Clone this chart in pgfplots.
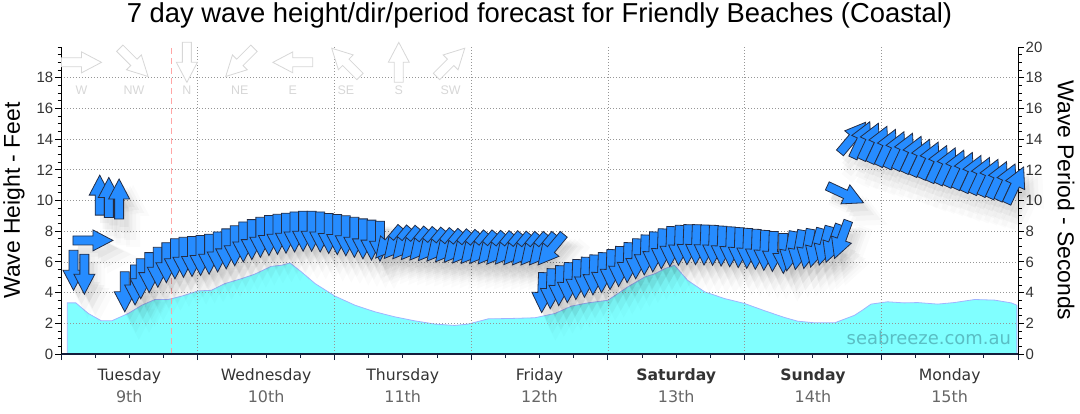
\documentclass[border=0pt]{standalone}
\usepackage{pgfplots}
\usepackage{pgfplotstable}
\pgfplotsset{compat=1.18}
\usepackage{fontspec}
\setmainfont{Liberation Sans}
\newfontfamily\verd{DejaVu Sans}
\definecolor{arrowblue}{RGB}{38,140,255}
\definecolor{arrowedge}{RGB}{35,45,70}
\definecolor{areacyan}{RGB}{128,255,255}
\definecolor{arealine}{RGB}{160,180,255}
\definecolor{gridgray}{RGB}{150,150,150}
\definecolor{navy}{RGB}{20,30,60}
\definecolor{wm}{RGB}{90,190,196}
\definecolor{leggray}{RGB}{215,215,215}
\definecolor{daycol}{RGB}{51,51,51}
\definecolor{datecol}{RGB}{102,102,102}
\protected\def\dt#1{{\verd\fontsize{16}{22}\selectfont\color{datecol}#1}}
\protected\def\keyfont{\fontsize{12.5}{12.5}\selectfont}

\pgfdeclareplotmark{warrow}{%
  \pgfpathmoveto{\pgfpoint{-20bp}{4.5bp}}%
  \pgfpathlineto{\pgfpoint{0bp}{4.5bp}}%
  \pgfpathlineto{\pgfpoint{0bp}{10.5bp}}%
  \pgfpathlineto{\pgfpoint{20bp}{0bp}}%
  \pgfpathlineto{\pgfpoint{0bp}{-10.5bp}}%
  \pgfpathlineto{\pgfpoint{0bp}{-4.5bp}}%
  \pgfpathlineto{\pgfpoint{-20bp}{-4.5bp}}%
  \pgfpathclose
  \pgfusepathqfillstroke
}
\pgfdeclareplotmark{wshadow}{%
  \pgfpathmoveto{\pgfpoint{-20bp}{4.5bp}}%
  \pgfpathlineto{\pgfpoint{0bp}{4.5bp}}%
  \pgfpathlineto{\pgfpoint{0bp}{10.5bp}}%
  \pgfpathlineto{\pgfpoint{20bp}{0bp}}%
  \pgfpathlineto{\pgfpoint{0bp}{-10.5bp}}%
  \pgfpathlineto{\pgfpoint{0bp}{-4.5bp}}%
  \pgfpathlineto{\pgfpoint{-20bp}{-4.5bp}}%
  \pgfpathclose
  \pgfusepathqfill
}

% wave height (feet) against hours from start
\pgfplotstableread{
h ft
1.1 3.33
2.6 3.33
4.8 2.64
7.1 2.16
8.9 2.16
11.8 2.64
14.2 3.18
16.5 3.55
18.8 3.55
21.2 3.77
24.1 4.11
26.4 4.15
28.8 4.59
31.7 4.91
34.0 5.20
36.9 5.71
38.7 5.78
40.2 5.93
42.2 5.35
44.6 4.59
48.1 3.77
51.6 3.18
55.1 2.75
58.6 2.42
62.1 2.16
65.6 1.95
69.1 1.86
71.5 1.95
75.0 2.29
78.5 2.31
83.2 2.36
86.7 2.64
89.6 3.12
92.5 3.33
96.0 3.50
99.5 4.37
102.5 5.02
104.2 5.22
106.0 5.56
107.7 5.78
110.0 4.80
113.0 4.05
116.5 3.61
120.0 3.29
123.5 2.82
127.0 2.38
129.3 2.14
132.3 2.03
135.8 2.03
137.8 2.31
139.3 2.52
140.7 2.86
142.2 3.25
145.1 3.40
148.0 3.33
150.4 3.35
153.9 3.25
156.8 3.35
160.4 3.55
163.9 3.51
166.8 3.33
167.8 3.18
}\heightdata

% swell arrows: hour, period (s), arrow angle (deg)
\pgfplotstableread{
h p a
2.2 5.45 -90
4.1 5.2 -90
5.6 7.4 0
6.8 10.35 90
8.4 10.2 90
10.2 10.1 90
11.2 4.05 -90
13.0 4.5 -90
14.0 4.9 -90
15.5 5.3 -90
17.0 5.65 -90
18.5 5.95 -90
20.0 6.2 -90
21.5 6.3 -90
23.0 6.35 -90
24.5 6.42 -90
26.0 6.5 -90
27.5 6.65 -90
29.0 6.85 -90
30.5 7.05 -90
32.0 7.3 -90
33.5 7.45 -90
35.0 7.6 -90
36.5 7.72 -90
38.0 7.8 -90
39.5 7.87 -90
41.0 7.95 -90
42.5 8.0 -90
44.0 8.0 -90
45.5 7.95 -90
47.0 7.85 -90
48.5 7.78 -90
50.0 7.7 -90
51.5 7.6 -90
53.0 7.5 -90
54.5 7.42 -90
56.0 7.35 -90
57.5 7.25 -130
59.0 7.22 -130
60.5 7.2 -130
62.0 7.15 -130
63.5 7.12 -130
65.0 7.08 -130
66.5 7.05 -130
68.0 7.0 -130
69.5 6.97 -130
71.0 6.93 -130
72.5 6.9 -130
74.0 6.9 -130
75.5 6.87 -130
77.0 6.85 -130
78.5 6.85 -130
80.0 6.82 -130
81.5 6.8 -130
83.0 6.8 -130
84.5 6.8 -130
86.0 6.8 -130
84.5 4.0 -92
86.0 4.25 -92
87.5 4.45 -92
89.0 4.65 -92
90.5 4.85 -92
92.0 5.0 -92
93.5 5.15 -92
95.0 5.3 -92
96.5 5.5 -92
98.0 5.7 -92
99.5 5.95 -92
101.0 6.2 -92
102.5 6.45 -92
104.0 6.65 -92
105.5 6.85 -92
107.0 7.0 -92
108.5 7.08 -92
110.0 7.12 -92
111.5 7.12 -92
113.0 7.1 -92
114.5 7.08 -92
116.0 7.03 -92
117.5 6.98 -92
119.0 6.93 -92
120.5 6.88 -92
122.0 6.82 -92
123.5 6.75 -92
125.0 6.68 -92
126.8 6.55 -90
128.0 6.7 -100
129.5 6.78 -100
131.0 6.85 -100
132.5 6.92 -105
134.0 7.05 -105
135.5 7.2 -110
137.0 7.45 -110
137.7 10.4 -25
139.0 14.1 50
140.5 13.95 65
142.0 13.85 65
143.5 13.65 65
145.0 13.45 65
146.5 13.3 65
148.0 13.2 65
149.5 13.0 65
151.0 12.8 65
152.5 12.62 65
154.0 12.4 65
155.5 12.25 65
157.0 12.1 65
158.5 11.95 65
160.0 11.75 65
161.5 11.62 65
163.0 11.5 65
164.5 11.35 65
166.0 11.2 65
167.5 11.0 65
}\arrowdata

% direction key
\pgfplotstableread{
h p a
3.6 19.0 0
12.8 19.0 -45
22.1 19.0 -90
31.4 19.0 -135
40.7 19.0 180
50.0 19.0 135
59.3 19.0 90
68.4 19.0 45
}\keydata

\pgfplotsset{
  common/.style={
    scale only axis, width=957bp, height=307bp,
    xmin=0, xmax=168, ymin=0, ymax=20,
    tick align=outside,
    major tick length=6bp, minor tick length=3.5bp,
    /pgf/number format/assume math mode=true,
    ticklabel style={font=\fontsize{15}{15}\selectfont, text=daycol},
  },
  shadowplot/.style n args={4}{
    scatter, only marks, mark=wshadow,
    visualization depends on={\thisrow{a}\as\myang},
    scatter/use mapped color={draw=none, fill=black, fill opacity=#4},
    scatter/@pre marker code/.append style={/tikz/xshift=#1,/tikz/yshift=#2,/tikz/rotate=\myang,/tikz/scale=#3},
  },
}

\begin{document}
\begin{tikzpicture}
\useasboundingbox (-61bp,-60bp) rectangle (1019bp,354bp);
\begin{axis}[
  common,
  axis on top,
  axis x line*=bottom, axis y line*=left,
  x axis line style={navy, line width=1.4bp},
  y axis line style={black, line width=0.8bp},
  xtick={0,24,...,168}, xticklabels={},
  minor xtick={6,12,...,162},
  ytick={0,2,...,18},
  minor ytick={0,0.5,...,20},
  xtick style={navy, line width=0.9bp},
  ytick style={black, line width=0.8bp},
  grid=major,
  major grid style={gridgray, line width=0.6bp, dash pattern=on 1bp off 2bp},
  yticklabel style={inner sep=1.5bp},
  extra x ticks={12,36,60,84,108,132,156},
  extra x tick labels={{Tuesday\\\dt{9th}},{Wednesday\\\dt{10th}},{Thursday\\\dt{11th}},{Friday\\\dt{12th}},{\textbf{Saturday}\\\dt{13th}},{\textbf{Sunday}\\\dt{14th}},{Monday\\\dt{15th}}},
  extra x tick style={grid=none, major tick length=0pt,
    xticklabel style={align=center, font=\verd\fontsize{15.7}{22}\selectfont, text=daycol, yshift=-11bp}},
  ylabel={Wave Height - Feet},
  every axis y label/.style={at={(axis description cs:-0.0491,0.5)}, rotate=90, anchor=center, font=\fontsize{23}{23}\selectfont},
  title={7 day wave height/dir/period forecast for Friendly Beaches (Coastal)},
  title style={at={(axis description cs:0.5,1)}, anchor=base, yshift=19bp, font=\fontsize{27.5}{27.5}\selectfont},
  clip=false,
]
\addplot[fill=areacyan, draw=arealine, line width=0.8bp] table[x=h, y=ft] {\heightdata} \closedcycle;
\node[anchor=east, text=wm, font=\verd\fontsize{18}{18}\selectfont, inner sep=0pt] at (axis cs:166.8,1.04) {seabreeze.com.au};
\draw[red!35, line width=0.8bp, dash pattern=on 6bp off 4bp] (axis cs:19.3,0) -- (axis cs:19.3,20);
\end{axis}

\begin{axis}[
  common,
  axis y line*=right, axis x line=none,
  ytick={0,2,...,20},
  minor ytick={0,0.5,...,20},
  ytick style={black, line width=0.8bp},
  y axis line style={black, line width=0.8bp},
  yticklabel style={inner sep=1.5bp},
  ylabel={Wave Period - Seconds},
  every axis y label/.style={at={(axis description cs:1.0502,0.5)}, rotate=-90, anchor=center, font=\fontsize{23}{23}\selectfont},
  clip=false,
]
% direction key
\addplot[scatter, only marks, mark=warrow,
  visualization depends on={\thisrow{a}\as\myang},
  scatter/use mapped color={draw=leggray, fill=white, line width=0.8bp},
  scatter/@pre marker code/.append style={/tikz/rotate=\myang}]
  table[x=h, y=p] {\keydata};
\node[text=leggray, font=\keyfont] at (axis cs:3.6,17.2) {W};
\node[text=leggray, font=\keyfont] at (axis cs:12.8,17.2) {NW};
\node[text=leggray, font=\keyfont] at (axis cs:22.1,17.2) {N};
\node[text=leggray, font=\keyfont] at (axis cs:31.4,17.2) {NE};
\node[text=leggray, font=\keyfont] at (axis cs:40.7,17.2) {E};
\node[text=leggray, font=\keyfont] at (axis cs:50.0,17.2) {SE};
\node[text=leggray, font=\keyfont] at (axis cs:59.3,17.2) {S};
\node[text=leggray, font=\keyfont] at (axis cs:68.4,17.2) {SW};
% shadows (soft, several layers)
\addplot[shadowplot={14bp}{-17bp}{1.55}{0.014}] table[x=h, y=p] {\arrowdata};
\addplot[shadowplot={11bp}{-14bp}{1.35}{0.022}] table[x=h, y=p] {\arrowdata};
\addplot[shadowplot={8bp}{-11bp}{1.15}{0.03}] table[x=h, y=p] {\arrowdata};
\addplot[shadowplot={5bp}{-8bp}{1.0}{0.04}] table[x=h, y=p] {\arrowdata};
% arrows
\addplot[scatter, only marks, mark=warrow,
  visualization depends on={\thisrow{a}\as\myang},
  scatter/use mapped color={draw=arrowedge, fill=arrowblue, line width=0.8bp},
  scatter/@pre marker code/.append style={/tikz/rotate=\myang}]
  table[x=h, y=p] {\arrowdata};
\end{axis}
\end{tikzpicture}
\end{document}
